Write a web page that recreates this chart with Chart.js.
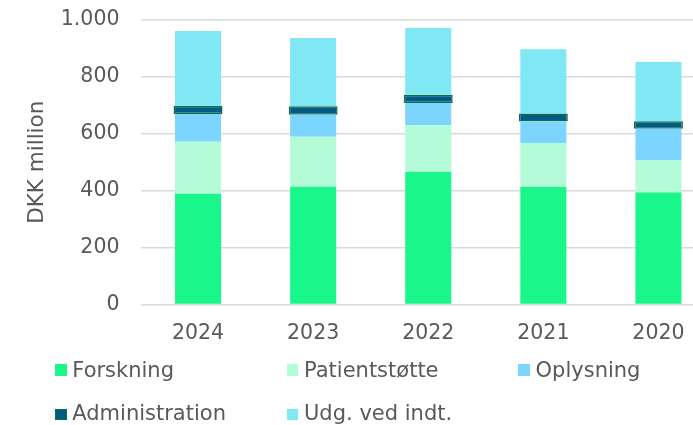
<!DOCTYPE html>
<html>
<head>
<meta charset="utf-8">
<script src="https://cdn.jsdelivr.net/npm/chart.js@4.4.1/dist/chart.umd.min.js"></script>
<style>
  html, body { margin: 0; padding: 0; overflow: hidden; background: #ffffff; }
  #wrap { position: relative; width: 693px; height: 425px; overflow: hidden; }
  #c { position: absolute; left: 0; top: 0; }
  .lg { position: absolute; font-family: "DejaVu Sans", Verdana, sans-serif; font-size: 21px; line-height: 24px; color: #595959; white-space: nowrap; }
  .bx { position: absolute; width: 11.7px; height: 11.7px; box-sizing: border-box; }
</style>
</head>
<body>
<div id="wrap">
  <canvas id="c" width="716" height="425" style="width:716px;height:425px"></canvas>
  <div id="legend"></div>
</div>
<script>
const categories = ["2024", "2023", "2022", "2021", "2020"];
const forskning      = [389, 414, 466, 413, 394];
const patientstotte  = [183, 176, 164, 155, 114];
const oplysning      = [98, 77, 78, 75, 110];
const administration = [29, 30, 29, 28, 26];
const udgVedIndt     = [262, 240, 235, 226, 208];
const yTicks = [0, 200, 400, 600, 800, 1000];

const seriesNames = ["Forskning", "Patientstøtte", "Oplysning", "Administration", "Udg. ved indt."];
const colors = ["#19F68A", "#B4FBD7", "#7CD5FF", "#005B87", "#7FE8F4"];
const borders = [null, null, null, "#0E6E47", null];

function fmt(v) { return String(v).replace(/\B(?=(\d{3})+(?!\d))/g, "."); }

const seriesData = [forskning, patientstotte, oplysning, administration, udgVedIndt];
const datasets = seriesData.map((d, i) => ({
  label: seriesNames[i],
  data: d,
  backgroundColor: colors[i],
  borderColor: borders[i] || colors[i],
  borderWidth: borders[i] ? 1.5 : 0,
  borderSkipped: false,
  barPercentage: borders[i] ? 0.425 : 0.4,
  categoryPercentage: 1.0,
  stack: "s"
}));

const textColor = "#595959";
new Chart(document.getElementById("c"), {
  type: "bar",
  data: { labels: categories, datasets },
  options: {
    responsive: false,
    animation: false,
    layout: { padding: { top: 20, left: 0, right: 0, bottom: 80 } },
    plugins: { legend: { display: false }, tooltip: { enabled: false } },
    scales: {
      x: {
        stacked: true,
        grid: { display: false, drawTicks: false },
        border: { display: false },
        ticks: { color: textColor, padding: 17, font: { family: "DejaVu Sans", size: 20.5 } },
        afterFit: s => { s.height = 40.5; s.paddingLeft = 0; s.paddingRight = 0; }
      },
      y: {
        stacked: true,
        min: 0, max: 1000,
        afterBuildTicks: s => { s.ticks = yTicks.map(v => ({ value: v })); },
        grid: { color: "#D9D9D9", lineWidth: 1.5, drawTicks: false },
        border: { display: false },
        ticks: { color: textColor, padding: 21, font: { family: "DejaVu Sans", size: 20.5 }, callback: v => fmt(v) },
        title: { display: true, text: "DKK million", color: textColor, font: { family: "DejaVu Sans", size: 21.5 }, padding: { top: 25, bottom: 0 } },
        afterFit: s => { s.width = 140.5; s.paddingTop = 0; s.paddingBottom = 0; }
      }
    }
  }
});

// Legend laid out as a 3-column grid like the reference
const lg = document.getElementById("legend");
const colX = [55, 286.7, 518.3];
const rowTop = [358, 401.4];
const rowBox = [364, 408.5];
seriesNames.forEach((name, i) => {
  const r = Math.floor(i / 3), c = i % 3;
  const b = document.createElement("div");
  b.className = "bx";
  b.style.left = colX[c] + "px";
  b.style.top = rowBox[r] + "px";
  b.style.background = colors[i];
  if (borders[i]) b.style.border = "1.5px solid " + borders[i];
  lg.appendChild(b);
  const t = document.createElement("div");
  t.className = "lg";
  t.style.left = (colX[c] + 17.3) + "px";
  t.style.top = rowTop[r] + "px";
  t.textContent = name;
  lg.appendChild(t);
});
</script>
</body>
</html>
